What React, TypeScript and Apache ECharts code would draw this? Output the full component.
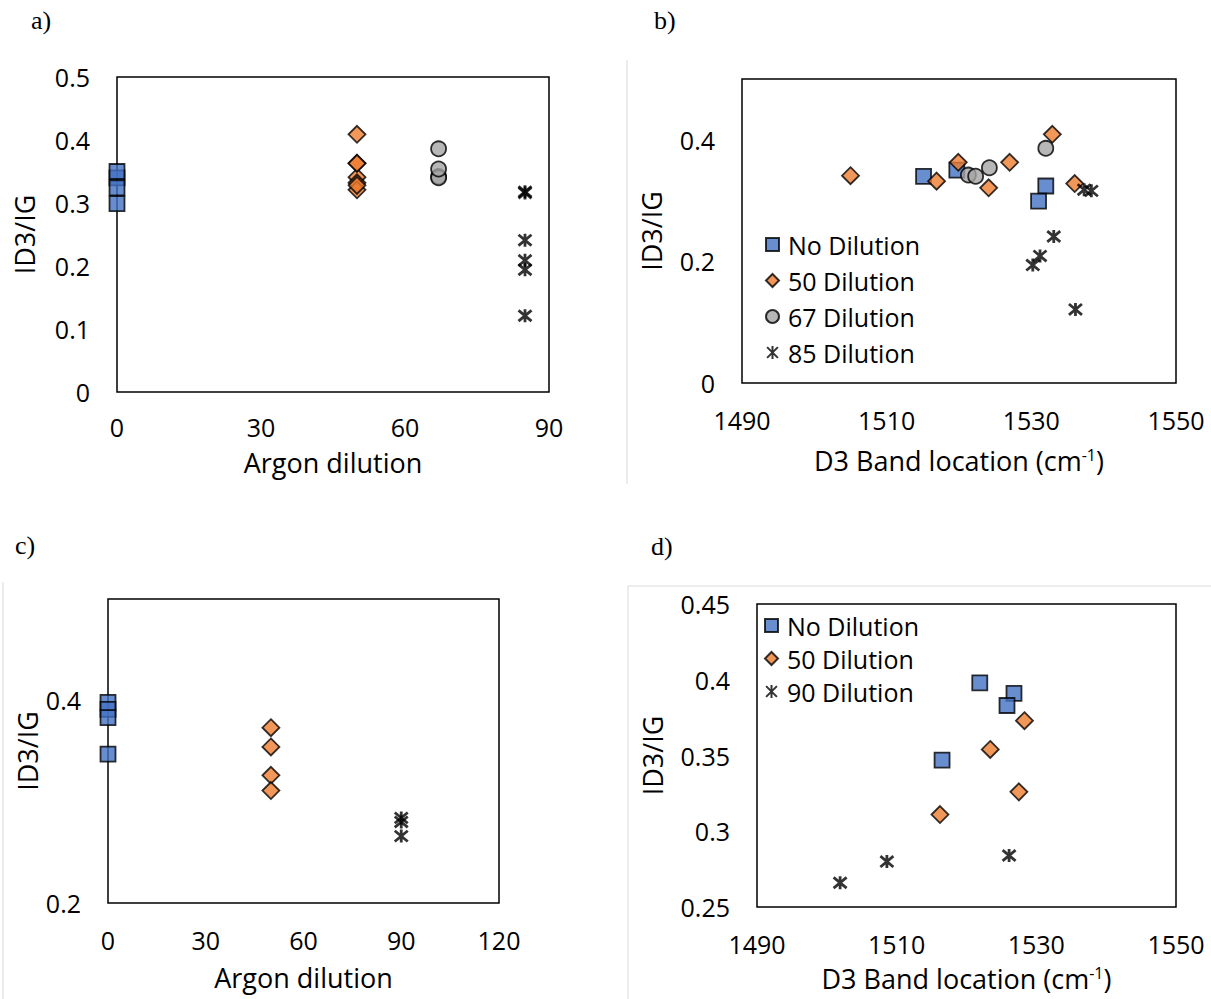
import React, { useEffect, useRef } from 'react';
import * as echarts from 'echarts';

// ---- Data set 1 (panels a, b) ----
const dilutionLevels1 = [0, 50, 67, 85];
const noDilBand1 = [1515.1, 1519.7, 1532.0, 1531.0];
const noDilRatio1 = [0.34, 0.35, 0.324, 0.299];
const dil50Band1 = [1505.0, 1516.9, 1519.9, 1524.1, 1527.0, 1532.9, 1536.0];
const dil50Ratio1 = [0.341, 0.332, 0.363, 0.321, 0.363, 0.409, 0.328];
const dil67Band1 = [1521.3, 1522.3, 1524.2, 1532.0];
const dil67Ratio1 = [0.342, 0.34, 0.354, 0.386];
const dil85Band1 = [1530.2, 1531.2, 1533.1, 1536.1, 1537.3, 1538.3];
const dil85Ratio1 = [0.194, 0.209, 0.241, 0.121, 0.318, 0.316];

// ---- Data set 2 (panels c, d) ----
const dilutionLevels2 = [0, 50, 90];
const noDilBand2 = [1521.9, 1526.8, 1525.8, 1516.5];
const noDilRatio2 = [0.398, 0.391, 0.383, 0.347];
const dil50Band2 = [1528.3, 1523.4, 1527.5, 1516.2];
const dil50Ratio2 = [0.373, 0.354, 0.326, 0.311];
const dil90Band2 = [1501.9, 1508.6, 1526.1];
const dil90Ratio2 = [0.266, 0.28, 0.284];

const names1 = ['No Dilution', '50 Dilution', '67 Dilution', '85 Dilution'];
const names2 = ['No Dilution', '50 Dilution', '90 Dilution'];

const dilutionTicks = [0, 30, 60, 90, 120];
const bandTicks = [1490, 1510, 1530, 1550];

const FONT = '"Open Sans", Lato, sans-serif';
const SERIF = '"Liberation Serif", "DejaVu Serif", serif';
const STAR = 'path://M1,1L11,11M11,1L1,11M6,0L6,12';
const FS = 25;
const FT = 27;

const markerStyles: any = {
  square: { symbol: 'rect', symbolSize: 15, itemStyle: { color: '#4472C4', borderColor: '#000', borderWidth: 1.8 } },
  diamond: { symbol: 'diamond', symbolSize: 17, itemStyle: { color: '#ED7D31', borderColor: '#000', borderWidth: 1.8 } },
  circle: { symbol: 'circle', symbolSize: 15, itemStyle: { color: '#A5A5A5', borderColor: '#000', borderWidth: 1.8 } },
  star: { symbol: STAR, symbolSize: 13, itemStyle: { color: 'rgba(0,0,0,0)', borderColor: '#000', borderWidth: 2.8 } },
};

const bandPts = (band: number[], ratio: number[]) => band.map((b, i) => [b, ratio[i]]);
const dilPts = (level: number, ratio: number[]) => ratio.map((r) => [level, r]);

function mkSeries(name: string, style: string, data: number[][], idx: number) {
  return {
    type: 'scatter',
    name,
    data,
    xAxisIndex: idx,
    yAxisIndex: idx,
    clip: false,
    emphasis: { disabled: true },
    ...markerStyles[style],
  };
}

const labelStyle = { fontSize: FS, color: '#000', fontFamily: FONT, lineHeight: 25 };
const nameStyle = { fontSize: FT, color: '#000', fontFamily: FONT, lineHeight: 27 };
const bandName = '{a|D3 Band location (cm}{b|-1}{a|)}';
const bandNameStyle = {
  ...nameStyle,
  rich: {
    a: { fontSize: FT, color: '#000', fontFamily: FONT, lineHeight: 27 },
    b: { fontSize: 16, color: '#000', fontFamily: FONT, verticalAlign: 'top', lineHeight: 16 },
  },
};

const plain = (v: number) => String(+v.toFixed(4));

function xAxis(idx: number, min: number, max: number, interval: number, name: any, nameGap: number, rich: boolean, margin: number) {
  return {
    type: 'value',
    gridIndex: idx,
    min,
    max,
    interval,
    name,
    nameLocation: 'middle',
    nameGap,
    nameTextStyle: rich ? bandNameStyle : nameStyle,
    axisLine: { show: false },
    axisTick: { show: false },
    splitLine: { show: false },
    axisLabel: { ...labelStyle, margin, formatter: plain },
  };
}

function yAxis(idx: number, min: number, max: number, interval: number, nameGap: number, hide?: number) {
  return {
    type: 'value',
    gridIndex: idx,
    min,
    max,
    interval,
    name: 'ID3/IG',
    nameLocation: 'middle',
    nameGap,
    nameTextStyle: nameStyle,
    axisLine: { show: false },
    axisTick: { show: false },
    splitLine: { show: false },
    axisLabel: {
      ...labelStyle,
      margin: 27,
      formatter: (v: number) => (hide !== undefined && Math.abs(v - hide) < 1e-9 ? '' : plain(v)),
    },
  };
}

const gridBase = { show: true, borderColor: '#000', borderWidth: 1.5, backgroundColor: 'transparent' };

export default function App() {
  const ref = useRef<HTMLDivElement>(null);
  useEffect(() => {
    if (!ref.current) return;
    const chart = echarts.init(ref.current, null, { renderer: 'svg' });
    const styles1 = ['square', 'diamond', 'circle', 'star'];
    const ratios1 = [noDilRatio1, dil50Ratio1, dil67Ratio1, dil85Ratio1];
    const bands1 = [noDilBand1, dil50Band1, dil67Band1, dil85Band1];
    const styles2 = ['square', 'diamond', 'star'];
    const ratios2 = [noDilRatio2, dil50Ratio2, dil90Ratio2];
    const bands2 = [noDilBand2, dil50Band2, dil90Band2];

    const series: any[] = [];
    names1.forEach((n, i) => series.push(mkSeries(n, styles1[i], dilPts(dilutionLevels1[i], ratios1[i]), 0)));
    names1.forEach((n, i) => series.push(mkSeries(n, styles1[i], bandPts(bands1[i], ratios1[i]), 1)));
    names2.forEach((n, i) => series.push(mkSeries(n, styles2[i], dilPts(dilutionLevels2[i], ratios2[i]), 2)));
    names2.forEach((n, i) => series.push(mkSeries(n, styles2[i], bandPts(bands2[i], ratios2[i]), 3)));

    const legendBase = {
      orient: 'vertical',
      itemWidth: 13,
      itemHeight: 13,
      selectedMode: false,
      textStyle: { fontSize: FS, color: '#000', fontFamily: FONT, padding: [0, 0, 0, 4] },
    };

    const frame = { stroke: '#D9D9D9', lineWidth: 1 };

    const option: any = {
      animation: false,
      backgroundColor: '#fff',
      grid: [
        { ...gridBase, left: 117, top: 77, width: 432, height: 315 },
        { ...gridBase, left: 742, top: 79, width: 434, height: 304 },
        { ...gridBase, left: 108, top: 599, width: 391, height: 304 },
        { ...gridBase, left: 757, top: 604, width: 419, height: 303 },
      ],
      xAxis: [
        xAxis(0, dilutionTicks[0], dilutionTicks[3], 30, 'Argon dilution', 57, false, 22),
        xAxis(1, bandTicks[0], bandTicks[3], 20, bandName, 64, true, 24),
        xAxis(2, dilutionTicks[0], dilutionTicks[4], 30, 'Argon dilution', 61, false, 24),
        xAxis(3, bandTicks[0], bandTicks[3], 20, bandName, 58, true, 24),
      ],
      yAxis: [
        yAxis(0, 0, 0.5, 0.1, 79),
        yAxis(1, 0, 0.5, 0.2, 77, 0.5),
        yAxis(2, 0.2, 0.5, 0.2, 67, 0.5),
        yAxis(3, 0.25, 0.45, 0.05, 91),
      ],
      legend: [
        { ...legendBase, left: 760, top: 227, itemGap: 11, data: names1 },
        { ...legendBase, left: 759, top: 608, itemGap: 8, data: names2 },
      ],
      graphic: [
        { type: 'text', left: 31, top: 7, style: { text: 'a)', font: `26px ${SERIF}`, fill: '#000' } },
        { type: 'text', left: 654, top: 7, style: { text: 'b)', font: `26px ${SERIF}`, fill: '#000' } },
        { type: 'text', left: 15, top: 532, style: { text: 'c)', font: `26px ${SERIF}`, fill: '#000' } },
        { type: 'text', left: 651, top: 533, style: { text: 'd)', font: `26px ${SERIF}`, fill: '#000' } },
        { type: 'line', shape: { x1: 627, y1: 60, x2: 627, y2: 484 }, style: frame },
        { type: 'line', shape: { x1: 3, y1: 582, x2: 3, y2: 999 }, style: frame },
        { type: 'line', shape: { x1: 628, y1: 586, x2: 1211, y2: 586 }, style: frame },
        { type: 'line', shape: { x1: 628, y1: 586, x2: 628, y2: 999 }, style: frame },
      ],
      series,
    };
    chart.setOption(option);
    return () => chart.dispose();
  }, []);
  return (
    <div
      ref={ref}
      style={{ position: 'fixed', left: 0, top: 0, width: 1211, height: 999, background: '#fff' }}
    />
  );
}
